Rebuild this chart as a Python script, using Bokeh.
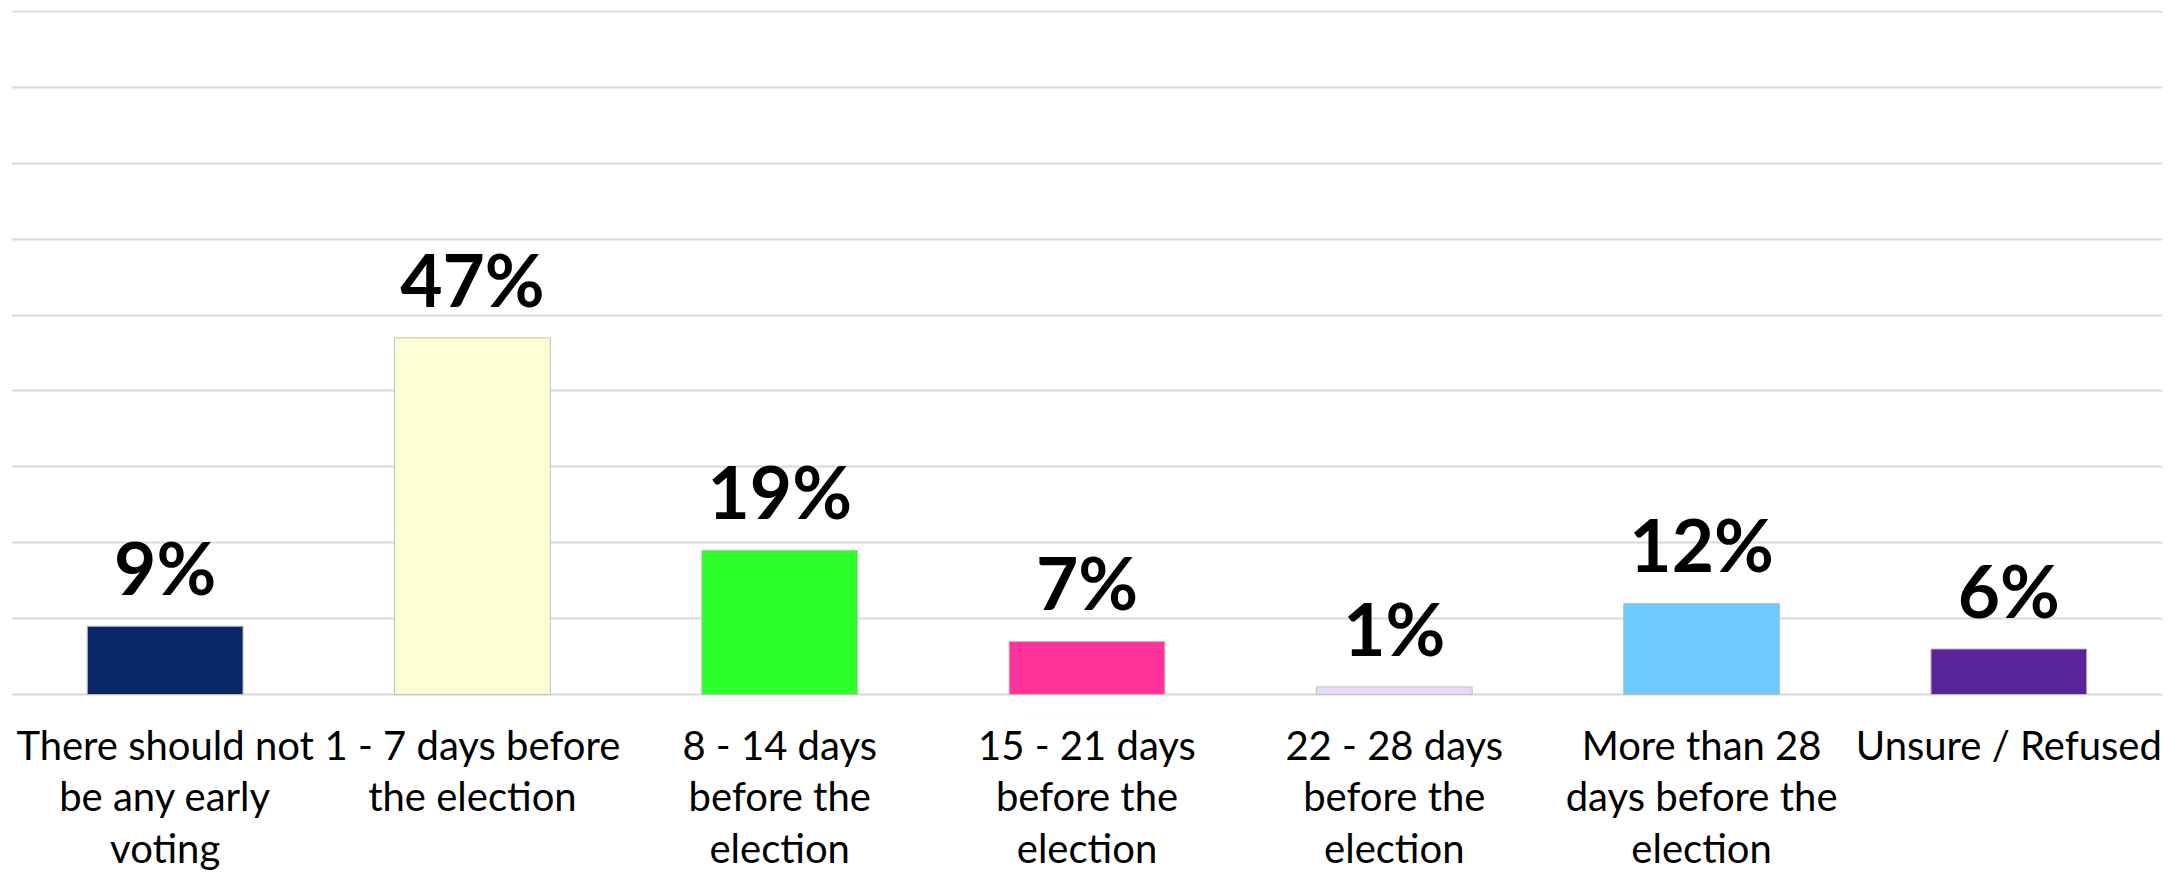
from bokeh.plotting import figure
from bokeh.models import Range1d, ColumnDataSource, FixedTicker
from bokeh.core.properties import value
from bokeh.embed import file_html
from bokeh.resources import INLINE

categories = [
    "There should not\nbe any early\nvoting",
    "1 - 7 days before\nthe election",
    "8 - 14 days\nbefore the\nelection",
    "15 - 21 days\nbefore the\nelection",
    "22 - 28 days\nbefore the\nelection",
    "More than 28\ndays before the\nelection",
    "Unsure / Refused",
]
values = [9, 47, 19, 7, 1, 12, 6]
labels = ["9%", "47%", "19%", "7%", "1%", "12%", "6%"]
colors = ["#0a2867", "#ffffd6", "#2cff2c", "#ff3399", "#e9d9f9", "#6dcafc", "#5a2499"]
y_ticks = [0, 10, 20, 30, 40, 50, 60, 70, 80, 90]

src = ColumnDataSource(dict(cat=categories, val=values, lab=labels, col=colors))

p = figure(
    x_range=categories,
    y_range=Range1d(-23.45, 90.13),
    width=2177, height=872,
    output_backend="svg", toolbar_location=None,
    min_border_left=11, min_border_right=15, min_border_top=10, min_border_bottom=0,
)
p.outline_line_color = None
p.background_fill_color = "white"
p.xaxis.visible = False
p.yaxis.visible = False

p.ygrid.ticker = FixedTicker(ticks=y_ticks)
p.ygrid.bounds = (0, 90)
p.ygrid.grid_line_color = "#d9d9d9"
p.ygrid.grid_line_width = 2
p.xgrid.grid_line_color = None

p.vbar(x="cat", top="val", bottom=0, width=0.507, source=src, fill_color="col",
       line_color="#bfbfbf", line_width=1)

p.text(x="cat", y="val", text="lab", source=src, y_offset=-59,
       text_align="center", text_baseline="alphabetic",
       text_font=value("Lato"), text_font_style="bold",
       text_font_size="73px", text_color="black")

# category labels, one text line each, centred under the bars
lx, ly, lt, lo = [], [], [], []
for c in categories:
    for i, line in enumerate(c.split("\n")):
        lx.append(c)
        ly.append(0)
        lt.append(line)
        lo.append(50 + 51.5 * i)
lsrc = ColumnDataSource(dict(x=lx, y=ly, t=lt, o=lo))
p.text(x="x", y="y", text="t", y_offset="o", source=lsrc,
       text_align="center", text_baseline="alphabetic",
       text_font=value("Lato"), text_font_size="40px", text_color="black")

open("out.html", "w").write(file_html(p, INLINE))
